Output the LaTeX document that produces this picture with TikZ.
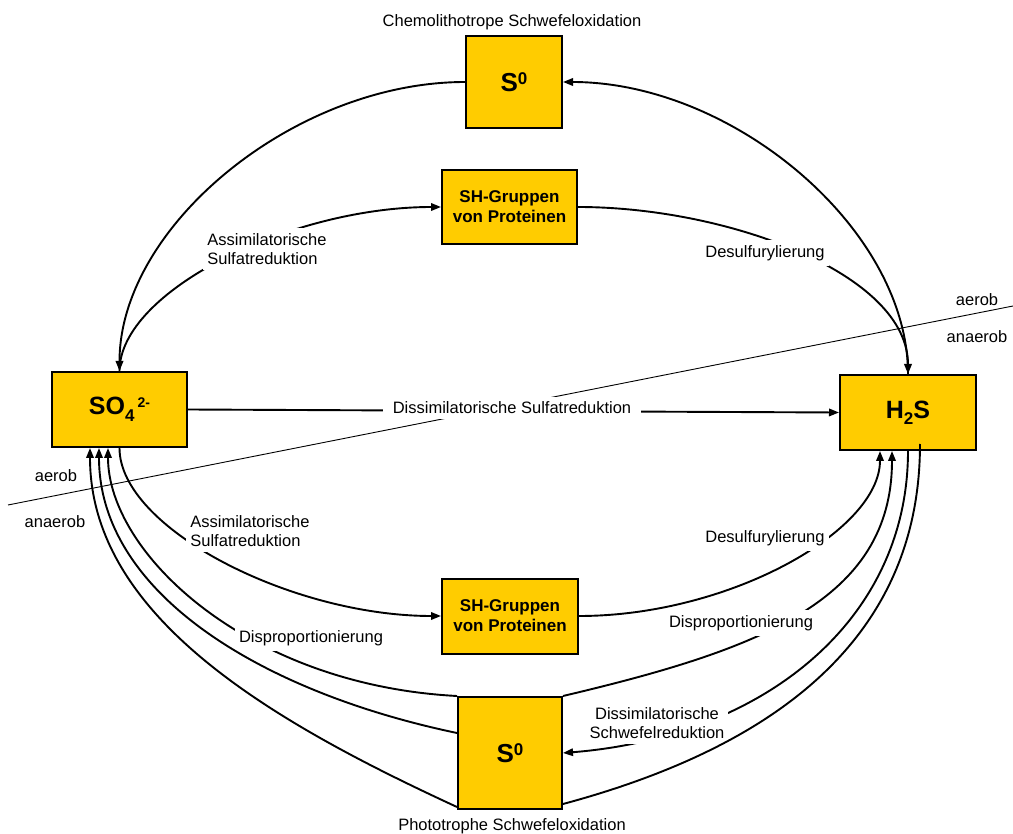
\documentclass[tikz,border=0pt]{standalone}
\usepackage{fontspec}
\setmainfont{Liberation Sans}
\usetikzlibrary{arrows.meta}
\definecolor{boxyellow}{HTML}{FFCC00}
\begin{document}
\begin{tikzpicture}[x=1pt,y=-1pt,
  box/.style={draw=black,line width=2pt,fill=boxyellow,inner sep=0pt,align=center,
    font=\bfseries\fontsize{17}{20}\selectfont},
  lbl/.style={fill=white,inner xsep=4pt,inner ysep=5pt,align=center,
    font=\fontsize{16.5}{19.5}\selectfont},
  plain/.style={inner sep=1pt,align=center,font=\fontsize{16.5}{19.5}\selectfont},
  conn/.style={line width=1.9pt},
  arr/.style={conn,-{Triangle[length=10pt,width=7.5pt]}},
  zone/.style={line width=0.9pt}]
\path[use as bounding box] (0,0) rectangle (1013,834);

% boxes
\node[box,minimum width=96pt,minimum height=92pt] (s0t) at (514,82)
  {{\fontsize{26}{28}\selectfont S\raisebox{6.4pt}{\fontsize{17}{17}\selectfont 0}}};
\node[box,minimum width=135pt,minimum height=74pt] (sht) at (509.5,207) {SH-Gruppen\\von Proteinen};
\node[box,minimum width=135pt,minimum height=75pt] (so4) at (119.5,409.5)
  {{\fontsize{25}{27}\selectfont SO\raisebox{-7pt}{\fontsize{17}{17}\selectfont 4}\hspace{3pt}\raisebox{7pt}{\fontsize{14}{14}\selectfont 2-}}};
\node[box,minimum width=136pt,minimum height=75pt] (h2s) at (908,412.5)
  {{\fontsize{25}{27}\selectfont H\raisebox{-6pt}{\fontsize{17}{17}\selectfont 2}S}};
\node[box,minimum width=136pt,minimum height=75pt] (shb) at (510,616) {SH-Gruppen\\von Proteinen};
\node[box,minimum width=104pt,minimum height=112pt] (s0b) at (510,753)
  {{\fontsize{26}{28}\selectfont S\raisebox{6.4pt}{\fontsize{17}{17}\selectfont 0}}};

% aerob / anaerob boundary
\coordinate (zl) at (8,505);
\coordinate (zr) at (1013,306);
\draw[zone] (zl) -- (zr);

% connectors with labels
\draw[arr] (so4.north) .. controls +(0,-80) and +(-150,0) .. (sht.west);
\draw[arr] (sht.east) .. controls +(150,0) and +(0,-100) .. (h2s.north);
\draw[arr] (so4.east) -- (h2s.west);
\draw[arr] (so4.south) .. controls +(0,80) and +(-150,0) .. (shb.west);
\draw[arr] (shb.east) .. controls +(150,0) and +(0,80) .. ([xshift=-28pt]h2s.south);
\draw[arr] (s0b.north west) .. controls +(-210,-11) and +(0,105) .. ([xshift=-11.5pt]so4.south);
\draw[arr] (s0b.north east) .. controls +(195,-46) and +(0,150) .. ([xshift=-16pt]h2s.south);
\draw[arr] (h2s.south) .. controls +(0,170) and +(200,-16) .. (s0b.east);

% labels
\node[plain] (lchemo) at (512,22) {Chemolithotrope Schwefeloxidation};
\node[plain] (lphoto) at (512,826) {Phototrophe Schwefeloxidation};
\node[lbl,align=left] (lassimt) at (267,249) {Assimilatorische\\Sulfatreduktion};
\node[lbl] (ldesulft) at (765,253) {Desulfurylierung};
\node[lbl,inner xsep=10pt] (ldissim) at (512,408) {Dissimilatorische Sulfatreduktion};
\node[lbl,align=left] (lassimb) at (250,531) {Assimilatorische\\Sulfatreduktion};
\node[lbl] (ldesulfb) at (765,538) {Desulfurylierung};
\node[lbl] (ldispl) at (311,638) {Disproportionierung};
\node[lbl] (ldispr) at (741,623) {Disproportionierung};
\node[lbl] (ldissims) at (657,723) {Dissimilatorische\\Schwefelreduktion};
\node[plain] (laer1) at (977,300) {aerob};
\node[plain] (lana1) at (977,337) {anaerob};
\node[plain] (laer2) at (56,476) {aerob};
\node[plain] (lana2) at (55,522) {anaerob};

% connectors without labels
\draw[arr] (h2s.north) .. controls +(0,-145) and +(170,0) .. (s0t.east);
\draw[arr] (s0t.west) .. controls +(-170,0) and +(0,-145) .. (so4.north);
\draw[arr] ([yshift=20pt]s0b.west) .. controls +(-196,-41) and +(0,145) .. ([xshift=-20.5pt]so4.south);
\draw[arr] ([yshift=-54pt]s0b.west) .. controls +(-182,-84) and +(0,170) .. ([xshift=-29.5pt]so4.south);
\draw[conn] ([xshift=12pt,yshift=7pt]h2s.south) .. controls +(0,207) and +(193,-52) .. ([yshift=-51pt]s0b.east);
\end{tikzpicture}
\end{document}
